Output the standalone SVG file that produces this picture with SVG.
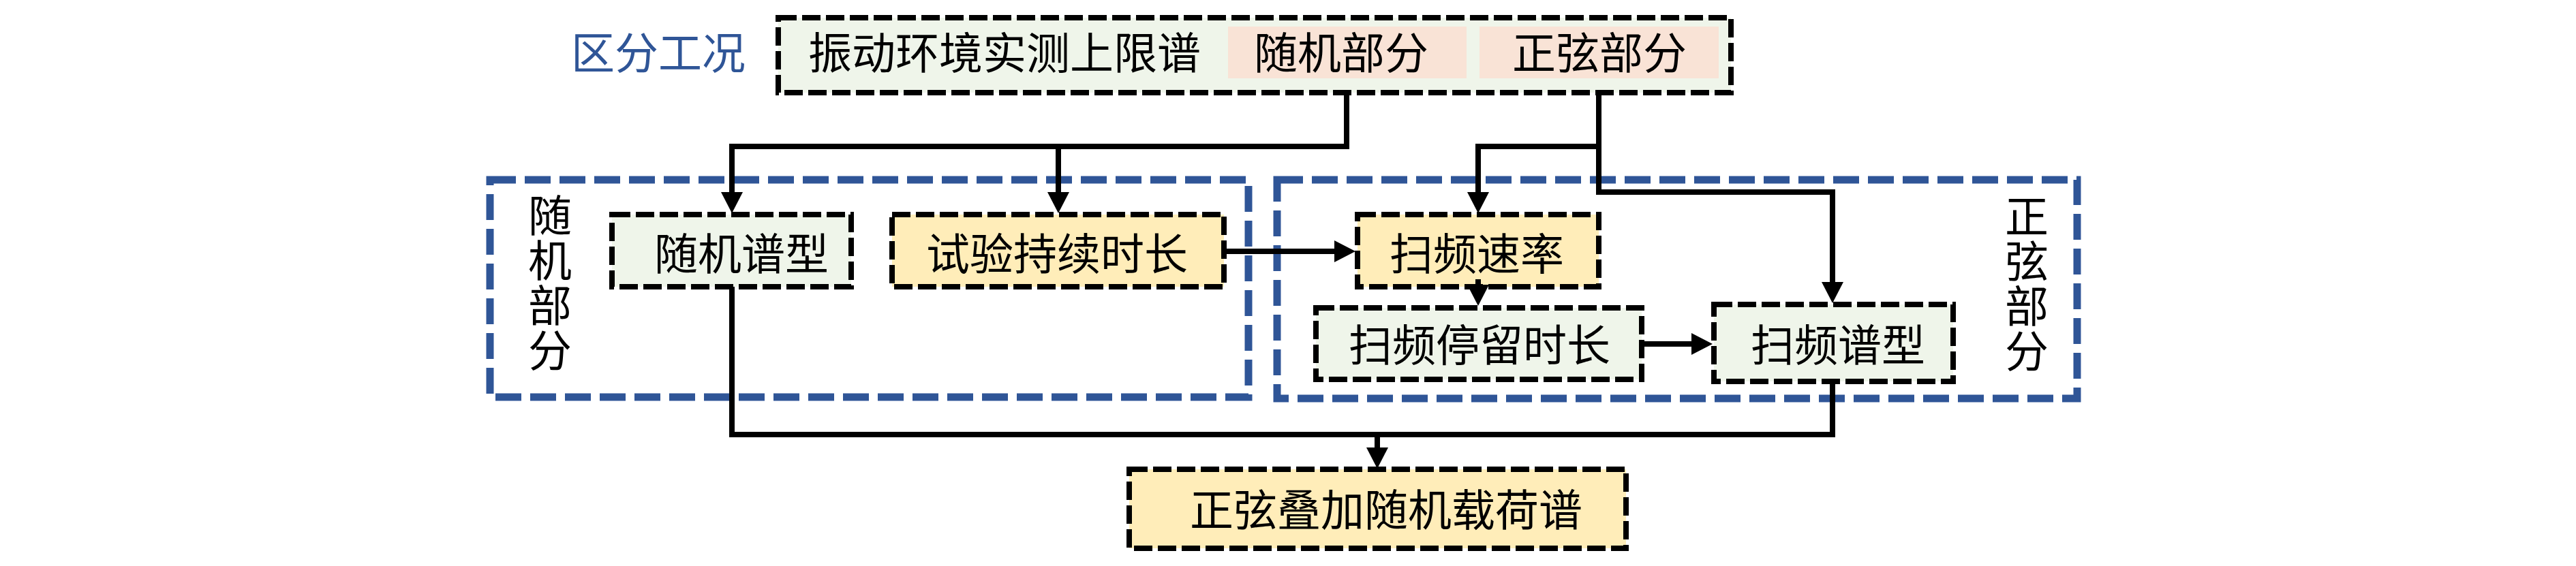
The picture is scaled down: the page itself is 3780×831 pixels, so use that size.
<svg xmlns="http://www.w3.org/2000/svg" width="3780" height="831" viewBox="0 0 3780 831">
<style>
.t{font-family:"Noto Sans CJK SC","Noto Sans CJK JP",sans-serif;font-size:64px;fill:#000;text-anchor:middle}
.v{font-family:"Noto Sans CJK SC","Noto Sans CJK JP",sans-serif;font-size:64px;fill:#000;writing-mode:vertical-rl;text-anchor:start;letter-spacing:2px}
.blue{fill:#2F5597}
.nb{stroke:#000;stroke-width:8;stroke-dasharray:27 8}
.grp{fill:none;stroke:#2F5597;stroke-width:11;stroke-dasharray:38 13}
.green{fill:#EFF5EA}
.yellow{fill:#FFEDB9}
.pink{fill:#F9E3D6}
.c{fill:none;stroke:#000;stroke-width:8}
</style>
<defs>
<marker id="ah" markerUnits="userSpaceOnUse" markerWidth="32" markerHeight="32" refX="0" refY="16" orient="auto" viewBox="0 0 32 32" overflow="visible">
<path d="M0,0 L31,16 L0,32 Z" fill="#000"/>
</marker>
</defs>
<rect width="3780" height="831" fill="#fff"/>

<g id="group-random">
<rect class="grp" x="719" y="264" width="1113" height="319"/>
<text class="v" x="807" y="284">随机部分</text>
</g>
<g id="group-sine">
<rect class="grp" x="1874" y="264" width="1174" height="321"/>
<text class="v" x="2974" y="285">正弦部分</text>
</g>

<g id="label-condition">
<text class="t blue" x="966" y="101">区分工况</text>
</g>

<g id="node-spectrum">
<rect class="nb green" x="1142" y="26" width="1398" height="110"/>
<rect class="pink" x="1802" y="39" width="350" height="76"/>
<rect class="pink" x="2171" y="39" width="351" height="76"/>
<text class="t" x="1474" y="101">振动环境实测上限谱</text>
<text class="t" x="1968" y="101">随机部分</text>
<text class="t" x="2347" y="101">正弦部分</text>
</g>

<g id="node-random-shape">
<rect class="nb green" x="898" y="315" width="351" height="106"/>
<text class="t" x="1088" y="396">随机谱型</text>
</g>
<g id="node-duration">
<rect class="nb yellow" x="1309" y="315" width="487" height="106"/>
<text class="t" x="1551" y="396">试验持续时长</text>
</g>
<g id="node-sweep-rate">
<rect class="nb yellow" x="1992" y="315" width="354" height="106"/>
<text class="t" x="2167" y="396">扫频速率</text>
</g>
<g id="node-dwell">
<rect class="nb green" x="1931" y="452" width="478" height="105"/>
<text class="t" x="2171" y="530">扫频停留时长</text>
</g>
<g id="node-sweep-shape">
<rect class="nb green" x="2515" y="447" width="351" height="113"/>
<text class="t" x="2697" y="530">扫频谱型</text>
</g>
<g id="node-result">
<rect class="nb yellow" x="1657" y="689" width="729" height="116"/>
<text class="t" x="2034" y="772">正弦叠加随机载荷谱</text>
</g>

<g id="connectors">
<path class="c" d="M1976,136 V215 H1074 V282" marker-end="url(#ah)"/>
<path class="c" d="M1553,215 V282" marker-end="url(#ah)"/>
<path class="c" d="M2346,136 V282 H2689 V414" marker-end="url(#ah)"/>
<path class="c" d="M2346,215 H2169 V282" marker-end="url(#ah)"/>
<path class="c" d="M1796,369 H1958" marker-end="url(#ah)"/>
<path class="c" d="M2169,410 V418" marker-end="url(#ah)"/>
<path class="c" d="M2409,505 H2482" marker-end="url(#ah)"/>
<path class="c" d="M1074,421 V638 H2689 V560"/>
<path class="c" d="M2021,638 V657" marker-end="url(#ah)"/>
</g>
</svg>
